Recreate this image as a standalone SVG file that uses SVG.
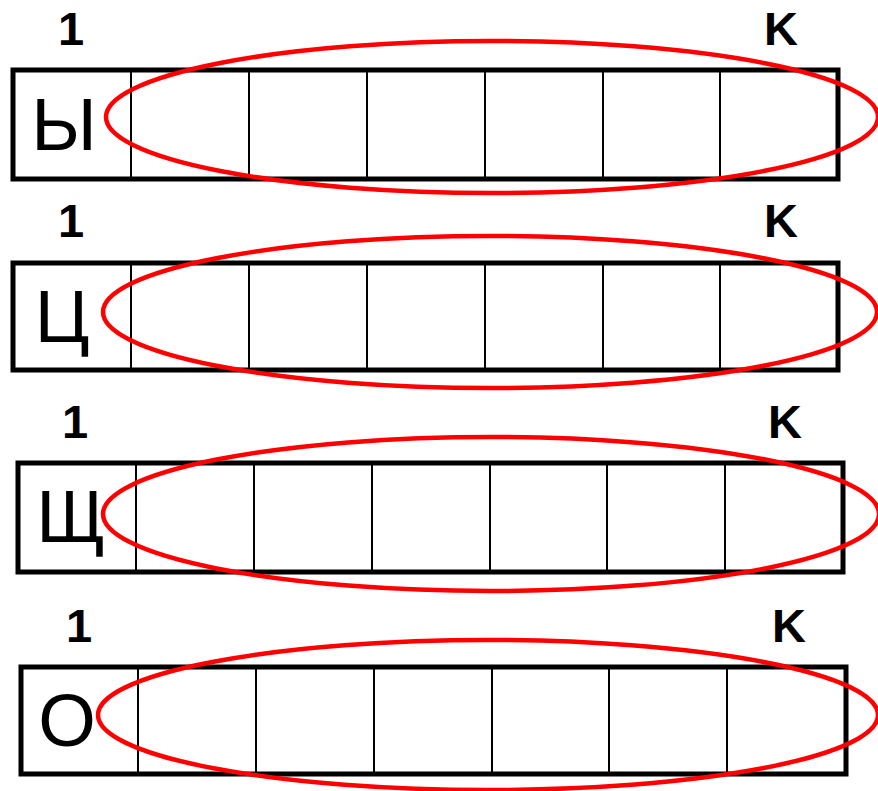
<svg xmlns="http://www.w3.org/2000/svg" width="878" height="791" viewBox="0 0 878 791">
<style>
.frame{fill:#fff;stroke:#000;stroke-width:5}
.div{stroke:#000;stroke-width:2}
.ring{fill:none;stroke:#ff0000;stroke-width:4.5}
.idx{font-family:"Liberation Sans",Arial,sans-serif;font-weight:bold;font-size:47px;text-anchor:middle;fill:#000}
.big{font-family:"Liberation Sans",Arial,sans-serif;font-size:74px;text-anchor:middle;fill:#000}
</style>
<rect width="878" height="791" fill="#fff"/>
<g id="row1">
<text class="idx" x="71" y="45">1</text>
<text class="idx" x="781" y="45">K</text>
<rect class="frame" x="13" y="70" width="825" height="109"/>
<path class="div" d="M131 70V179M249 70V179M367 70V179M485 70V179M603 70V179M720 70V179"/>
<text class="big" x="64" y="150">Ы</text>
<ellipse class="ring" cx="492" cy="117" rx="386" ry="76"/>
</g>
<g id="row2">
<text class="idx" x="71" y="237">1</text>
<text class="idx" x="781" y="237">K</text>
<rect class="frame" x="13" y="263" width="825" height="107"/>
<path class="div" d="M131 263V370M249 263V370M367 263V370M485 263V370M603 263V370M720 263V370"/>
<text class="big" x="62" y="342">Ц</text>
<ellipse class="ring" cx="490" cy="312" rx="387" ry="76"/>
</g>
<g id="row3">
<text class="idx" x="75" y="438">1</text>
<text class="idx" x="785" y="438">K</text>
<rect class="frame" x="18" y="463" width="825" height="109"/>
<path class="div" d="M136 463V572M254 463V572M372 463V572M490 463V572M607 463V572M725 463V572"/>
<text class="big" x="71" y="542">Щ</text>
<ellipse class="ring" cx="491" cy="514" rx="388" ry="77"/>
</g>
<g id="row4">
<text class="idx" x="79" y="642">1</text>
<text class="idx" x="789" y="642">K</text>
<rect class="frame" x="21" y="667" width="825" height="107"/>
<path class="div" d="M138 667V774M256 667V774M374 667V774M492 667V774M609 667V774M727 667V774"/>
<text class="big" x="67" y="746">О</text>
<ellipse class="ring" cx="488" cy="715" rx="390" ry="75"/>
</g>
<g id="connectors"/>
</svg>
